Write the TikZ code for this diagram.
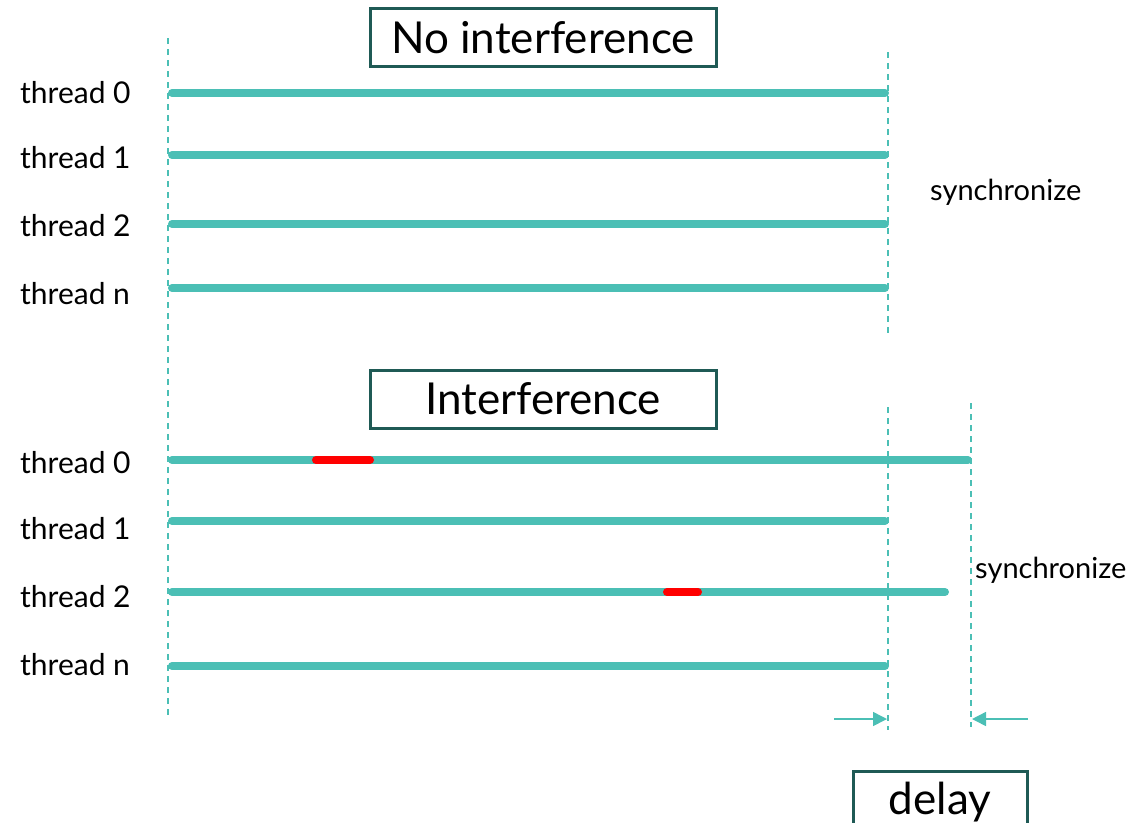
\documentclass[tikz,border=0pt]{standalone}
\usepackage{fontspec}
\setmainfont{Lato}
\usetikzlibrary{arrows.meta}
\definecolor{teal1}{HTML}{4BBFB5}
\definecolor{boxc}{HTML}{1F5A55}
\begin{document}
\begin{tikzpicture}[x=1pt,y=-1pt,
  thr/.style={line width=8pt,teal1,line cap=round},
  intf/.style={line width=8pt,red,line cap=round},
  dsh/.style={teal1,line width=1.5pt,dash pattern=on 6pt off 5pt},
  lbl/.style={anchor=west,inner sep=0pt,font=\fontsize{30}{34}\selectfont},
  sync/.style={anchor=west,inner sep=0pt,font=\fontsize{29}{33}\selectfont},
  titlebox/.style={draw=boxc,line width=3pt,minimum width=346pt,minimum height=58pt,inner sep=0pt,font=\fontsize{44}{50}\selectfont},
  dly/.style={teal1,line width=1.5pt,-{Triangle[length=14pt,width=14pt]}}]
\useasboundingbox (0,0) rectangle (1129,822);
% top
\node[titlebox] (t1) at (543,37.5) {No interference};
\coordinate (L0) at (168,38); \coordinate (L1) at (168,716);
\draw[dsh] (L0) -- (L1);
\coordinate (R0) at (888,52); \coordinate (R1) at (888,335);
\draw[dsh] (R0) -- (R1);
\foreach \y/\t/\ly [count=\i] in {93/0/93,155/1/158,224/2/226,288/n/294}{
  \node[lbl] (a\i) at (20,\ly) {thread \t};
  \coordinate (as\i) at (172,\y); \coordinate (ae\i) at (885,\y);
  \draw[thr] (as\i) -- (ae\i);
}
\node[sync] (s1) at (930,192) {synchronize};
% bottom
\node[titlebox] (t2) at (543,399) {Interference};
\coordinate (Q0) at (888,407); \coordinate (Q1) at (888,730);
\draw[dsh] (Q0) -- (Q1);
\coordinate (P0) at (971,403); \coordinate (P1) at (971,727);
\draw[dsh] (P0) -- (P1);
\node[lbl] (b1) at (20,463) {thread 0};
\node[lbl] (b2) at (20,529) {thread 1};
\node[lbl] (b3) at (20,597) {thread 2};
\node[lbl] (b4) at (20,665) {thread n};
\coordinate (bs1) at (172,460); \coordinate (be1) at (968,460);
\coordinate (bs2) at (172,521); \coordinate (be2) at (885,521);
\coordinate (bs3) at (172,592); \coordinate (be3) at (945,592);
\coordinate (bs4) at (172,666); \coordinate (be4) at (885,666);
\foreach \i in {1,2,3,4}{\draw[thr] (bs\i) -- (be\i);}
\coordinate (r1a) at (316,460); \coordinate (r1b) at (370,460);
\coordinate (r2a) at (667,592); \coordinate (r2b) at (698,592);
\draw[intf] (r1a) -- (r1b);
\draw[intf] (r2a) -- (r2b);
\node[sync] (s2) at (975,570) {synchronize};
% delay
\coordinate (d1s) at (834,719); \coordinate (d1e) at (887,719);
\coordinate (d2s) at (1028,719); \coordinate (d2e) at (972,719);
\draw[dly] (d1s) -- (d1e);
\draw[dly] (d2s) -- (d2e);
\node[draw=boxc,line width=3pt,minimum width=174pt,minimum height=70pt,inner sep=0pt,anchor=north,font=\fontsize{44}{50}\selectfont,text depth=12pt,text height=28pt] (dl) at (940,770) {delay};
\end{tikzpicture}
\end{document}
